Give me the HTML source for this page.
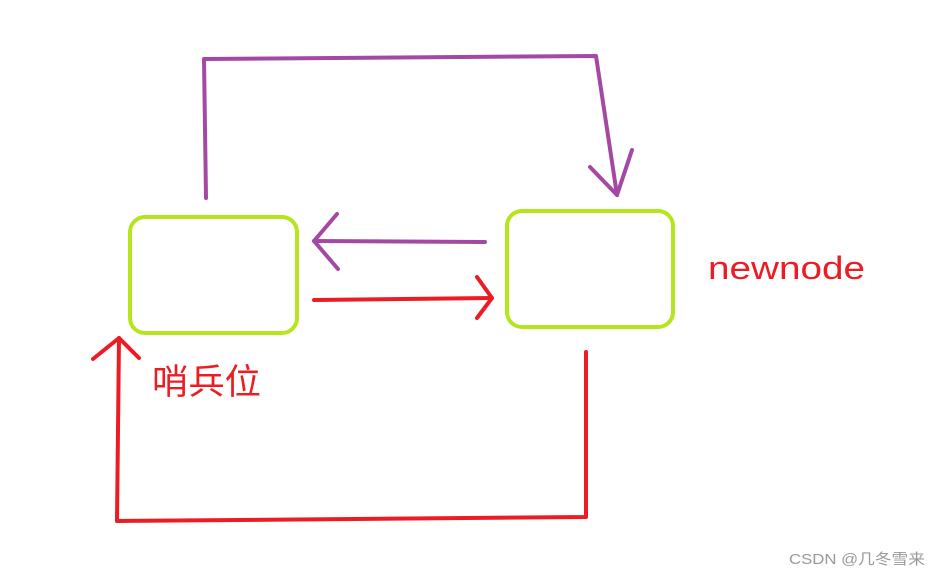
<!DOCTYPE html>
<html><head><meta charset="utf-8"><style>
body{margin:0;background:#fff;width:940px;height:576px;overflow:hidden}
svg{display:block}
</style></head><body>
<svg width="940" height="576" xmlns="http://www.w3.org/2000/svg">
<g fill="none" stroke-linecap="round" stroke-linejoin="round" stroke-width="4">
<rect x="130" y="217" width="167" height="116" rx="15" stroke="#b5e61d"/>
<rect x="507" y="211" width="166" height="116" rx="15" stroke="#b5e61d"/>
<g stroke="#a349a4">
<polyline points="206,198 204,59 596,56 617,195"/>
<polyline points="590,167 617,195 632,150"/>
<line x1="485" y1="242" x2="314" y2="241"/>
<polyline points="337,214 314,241 338,269"/>
</g>
<g stroke="#ed1c24">
<line x1="314" y1="300" x2="492" y2="298"/>
<polyline points="477,277 492,298 477,318"/>
<polyline points="586,352 586,517 117,521 119,338"/>
<polyline points="93,359 119,338 139,358"/>
</g>
</g>
<text x="708" y="279" font-family="Liberation Sans, sans-serif" font-size="32" fill="#ed1c24" textLength="157" lengthAdjust="spacingAndGlyphs">newnode</text>
<text x="152" y="394" font-family="Liberation Sans, Noto Sans CJK SC, sans-serif" font-size="35" fill="#ed1c24" textLength="109" lengthAdjust="spacingAndGlyphs">哨兵位</text>
<text x="789" y="564" font-family="Liberation Sans, Noto Sans CJK SC, sans-serif" font-size="15" fill="#999" textLength="136" lengthAdjust="spacingAndGlyphs">CSDN @几冬雪来</text>
</svg>
</body></html>
